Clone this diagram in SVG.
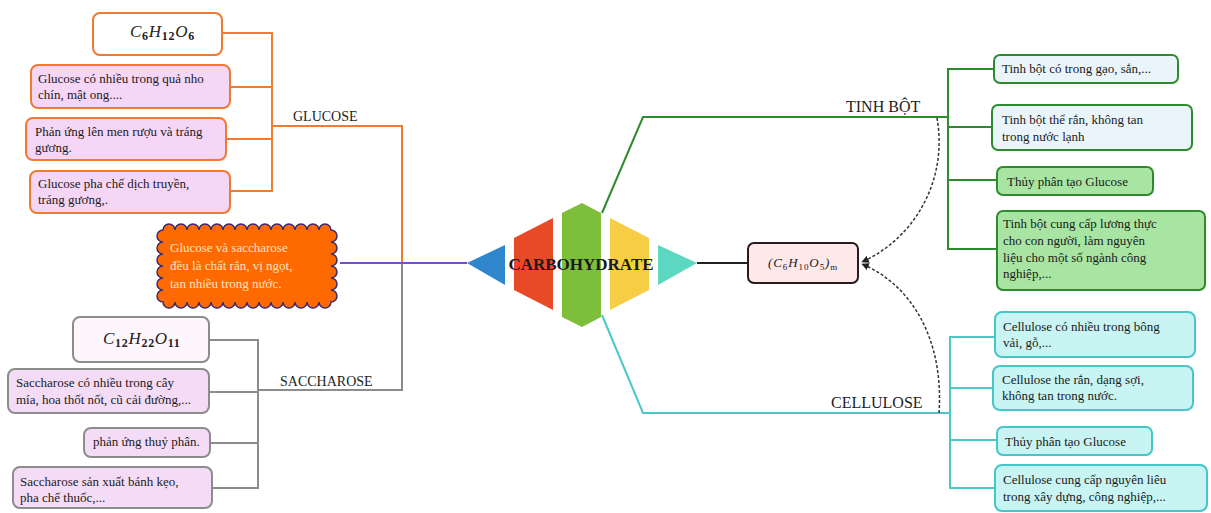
<svg xmlns="http://www.w3.org/2000/svg" width="1211" height="513" viewBox="0 0 1211 513">
<style>
text{font-family:"Liberation Serif","Times New Roman",serif;fill:#1a1a1a}
.t{font-size:13px}
.lbl{font-size:14px;fill:#222}
.lbl2{font-size:16px;fill:#222}
.math{font-size:17px;font-style:italic;fill:#222;letter-spacing:0.7px}
.sub{font-size:12px;font-style:normal;font-weight:bold}
.bo{fill:#f6d6f6;stroke:#f07a30;stroke-width:2}
.bow{fill:#ffffff;stroke:#f07a30;stroke-width:2}
.bg{fill:#f4dcf6;stroke:#8c8c8c;stroke-width:2}
.bgw{fill:#fdf6fd;stroke:#8c8c8c;stroke-width:2}
.bgb{fill:#eaf5fb;stroke:#2e8b2e;stroke-width:2}
.bgg{fill:#a8e4a2;stroke:#2e8b2e;stroke-width:2}
.bc{fill:#c8f4f4;stroke:#46c6c6;stroke-width:2}
.co{fill:none;stroke:#f07a30;stroke-width:2}
.cg{fill:none;stroke:#8c8c8c;stroke-width:2}
.cgr{fill:none;stroke:#2e8b2e;stroke-width:2}
.ct{fill:none;stroke:#4cc8c8;stroke-width:2}
.dash{fill:none;stroke:#333;stroke-width:1.5;stroke-dasharray:3,2}
</style>
<defs>
<marker id="ah" viewBox="0 0 10 10" refX="9" refY="5" markerWidth="5" markerHeight="5" orient="auto-start-reverse">
<path d="M0,0 L10,5 L0,10 z" fill="#222"/>
</marker>
</defs>

<g id="connectors">
<polyline class="co" points="222,33 272,33 272,191 230,191"/>
<line class="co" x1="230" y1="87" x2="272" y2="87"/>
<line class="co" x1="226" y1="139" x2="272" y2="139"/>
<polyline class="co" points="272,126 402,126 402,263"/>
<polyline class="cg" points="402,263 402,390 258,390"/>
<polyline class="cg" points="209,340 258,340 258,488 212,488"/>
<line class="cg" x1="209" y1="392" x2="258" y2="392"/>
<line class="cg" x1="210" y1="443" x2="258" y2="443"/>
<line x1="340" y1="263" x2="467" y2="263" stroke="#7050c8" stroke-width="2"/>
<line x1="697" y1="263" x2="748" y2="263" stroke="#222" stroke-width="2"/>
<polyline class="cgr" points="602,213 643,117 948,117"/>
<polyline class="cgr" points="994,69 948,69 948,249 997,249"/>
<line class="cgr" x1="948" y1="127" x2="992" y2="127"/>
<line class="cgr" x1="948" y1="180" x2="997" y2="180"/>
<polyline class="ct" points="602,315 643,413 950,413"/>
<polyline class="ct" points="995,337 950,337 950,488 995,488"/>
<line class="ct" x1="950" y1="388" x2="993" y2="388"/>
<line class="ct" x1="950" y1="440" x2="997" y2="440"/>
<path class="dash" d="M937,118 C948,180 915,238 862,262" marker-end="url(#ah)"/>
<path class="dash" d="M939,413 C944,340 912,285 862,264" marker-end="url(#ah)"/>
<text class="lbl" x="293" y="121">GLUCOSE</text>
<text class="lbl" x="280" y="386">SACCHAROSE</text>
<text class="lbl2" x="846" y="112">TINH BỘT</text>
<text class="lbl2" x="831" y="408">CELLULOSE</text>
</g>

<g id="center">
<polygon points="467,263 505,245 505,285" fill="#2f86cc"/>
<polygon points="514,238 553,218 553,310 514,290" fill="#e84a27"/>
<polygon points="562,213 582,203 601,213 601,317 582,327 562,317" fill="#7dbe3a"/>
<polygon points="610,218 649,238 649,290 610,310" fill="#f7cd46"/>
<polygon points="658,245 697,263 658,285" fill="#5dd8c0"/>
<text x="581" y="270" text-anchor="middle" font-size="17" font-weight="bold">CARBOHYDRATE</text>
</g>

<g id="c6h12o6">
<rect class="bow" x="93" y="13" width="129" height="42" rx="7"/>
<text class="math" x="130" y="37">C<tspan class="sub" dy="3">6</tspan><tspan dy="-3">H</tspan><tspan class="sub" dy="3">12</tspan><tspan dy="-3">O</tspan><tspan class="sub" dy="3">6</tspan></text>
</g>
<g id="glucose1">
<rect class="bo" x="31" y="65" width="199" height="43" rx="7"/>
<text class="t" x="38" y="83">Glucose có nhiều trong quả nho</text>
<text class="t" x="38" y="99">chín, mật ong....</text>
</g>
<g id="glucose2">
<rect class="bo" x="26" y="118" width="200" height="42" rx="7"/>
<text class="t" x="35" y="136">Phản ứng lên men rượu và tráng</text>
<text class="t" x="35" y="152">gương.</text>
</g>
<g id="glucose3">
<rect class="bo" x="30" y="171" width="200" height="42" rx="7"/>
<text class="t" x="38" y="188">Glucose pha chế dịch truyền,</text>
<text class="t" x="38" y="204">tráng gương,.</text>
</g>

<g id="common">
<path d="M163,230 a6,6 0 0 1 12,0 a6,6 0 0 1 12,0 a6,6 0 0 1 12,0 a6,6 0 0 1 12,0 a6,6 0 0 1 12,0 a6,6 0 0 1 12,0 a6,6 0 0 1 12,0 a6,6 0 0 1 12,0 a6,6 0 0 1 12,0 a6,6 0 0 1 12,0 a6,6 0 0 1 12,0 a6,6 0 0 1 12,0 a6,6 0 0 1 12,0 a6,6 0 0 1 12,0 a6,6 0 0 1 0,12 a6,6 0 0 1 0,12 a6,6 0 0 1 0,12 a6,6 0 0 1 0,12 a6,6 0 0 1 0,12 a6,6 0 0 1 0,12 a6,6 0 0 1 -12,0 a6,6 0 0 1 -12,0 a6,6 0 0 1 -12,0 a6,6 0 0 1 -12,0 a6,6 0 0 1 -12,0 a6,6 0 0 1 -12,0 a6,6 0 0 1 -12,0 a6,6 0 0 1 -12,0 a6,6 0 0 1 -12,0 a6,6 0 0 1 -12,0 a6,6 0 0 1 -12,0 a6,6 0 0 1 -12,0 a6,6 0 0 1 -12,0 a6,6 0 0 1 -12,0 a6,6 0 0 1 0,-12 a6,6 0 0 1 0,-12 a6,6 0 0 1 0,-12 a6,6 0 0 1 0,-12 a6,6 0 0 1 0,-12 a6,6 0 0 1 0,-12 z" fill="#ff6a00" stroke="#3b2a6e" stroke-width="1.5"/>
<text class="t" x="170" y="252" style="fill:#ffe2c4">Glucose và saccharose</text>
<text class="t" x="170" y="270" style="fill:#ffe2c4">đều là chất rắn, vị ngọt,</text>
<text class="t" x="170" y="288" style="fill:#ffe2c4">tan nhiều trong nước.</text>
</g>

<g id="c12h22o11">
<rect class="bgw" x="73" y="317" width="136" height="45" rx="7"/>
<text class="math" x="103" y="344">C<tspan class="sub" dy="3">12</tspan><tspan dy="-3">H</tspan><tspan class="sub" dy="3">22</tspan><tspan dy="-3">O</tspan><tspan class="sub" dy="3">11</tspan></text>
</g>
<g id="sac1">
<rect class="bg" x="8" y="369" width="201" height="44" rx="7"/>
<text class="t" x="16" y="387">Saccharose có nhiều trong cây</text>
<text class="t" x="16" y="404">mía, hoa thốt nốt, cũ cải đường,...</text>
</g>
<g id="sac2">
<rect class="bg" x="84" y="428" width="126" height="29" rx="7"/>
<text class="t" x="93" y="446">phản ứng thuỷ phân.</text>
</g>
<g id="sac3">
<rect class="bg" x="13" y="467" width="199" height="41" rx="7"/>
<text class="t" x="20" y="486">Saccharose sản xuất bánh kẹo,</text>
<text class="t" x="20" y="502">pha chế thuốc,...</text>
</g>

<g id="polymer">
<rect x="748" y="243" width="110" height="40" rx="6" fill="#fde8ea" stroke="#2a1a1a" stroke-width="2"/>
<text x="768" y="267" font-size="13" font-style="italic" fill="#222" letter-spacing="0.9">(C<tspan font-size="9" font-style="normal" dy="3">6</tspan><tspan dy="-3">H</tspan><tspan font-size="9" font-style="normal" dy="3">10</tspan><tspan dy="-3">O</tspan><tspan font-size="9" font-style="normal" dy="3">5</tspan><tspan dy="-3">)</tspan><tspan font-size="9" font-style="normal" dy="3">m</tspan></text>
</g>

<g id="tinhbot1">
<rect class="bgb" x="994" y="55" width="184" height="28" rx="6"/>
<text class="t" x="1002" y="73">Tinh bột có trong gạo, sắn,...</text>
</g>
<g id="tinhbot2">
<rect class="bgb" x="992" y="105" width="200" height="45" rx="6"/>
<text class="t" x="1002" y="124">Tinh bột thể rắn, không tan</text>
<text class="t" x="1002" y="141">trong nước lạnh</text>
</g>
<g id="tinhbot3">
<rect class="bgg" x="997" y="167" width="156" height="28" rx="6"/>
<text class="t" x="1007" y="186">Thủy phân tạo Glucose</text>
</g>
<g id="tinhbot4">
<rect class="bgg" x="997" y="211" width="208" height="79" rx="6"/>
<text class="t" x="1003" y="228">Tinh bột cung cấp lương thực</text>
<text class="t" x="1003" y="245">cho con người, làm nguyên</text>
<text class="t" x="1003" y="262">liệu cho một số ngành công</text>
<text class="t" x="1003" y="278">nghiệp,...</text>
</g>

<g id="cellulose1">
<rect class="bc" x="995" y="312" width="200" height="45" rx="7"/>
<text class="t" x="1003" y="331">Cellulose có nhiều trong bông</text>
<text class="t" x="1003" y="347">vải, gỗ,...</text>
</g>
<g id="cellulose2">
<rect class="bc" x="993" y="366" width="200" height="44" rx="7"/>
<text class="t" x="1002" y="384">Cellulose the rắn, dạng sợi,</text>
<text class="t" x="1002" y="400">không tan trong nước.</text>
</g>
<g id="cellulose3">
<rect class="bc" x="997" y="427" width="155" height="28" rx="6"/>
<text class="t" x="1005" y="446">Thủy phân tạo Glucose</text>
</g>
<g id="cellulose4">
<rect class="bc" x="995" y="465" width="212" height="46" rx="7"/>
<text class="t" x="1003" y="484">Cellulose cung cấp nguyên liêu</text>
<text class="t" x="1003" y="501">trong xây dựng, công nghiệp,...</text>
</g>
</svg>
